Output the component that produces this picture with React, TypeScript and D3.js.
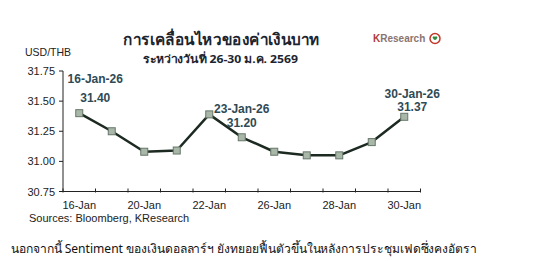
import React from "react";
import * as d3 from "d3";

const categories = ["16-Jan", "19-Jan", "20-Jan", "21-Jan", "22-Jan", "23-Jan", "26-Jan", "27-Jan", "28-Jan", "29-Jan", "30-Jan"];
const values = [31.40, 31.25, 31.08, 31.09, 31.39, 31.20, 31.08, 31.05, 31.05, 31.16, 31.37];
const xTickLabels = ["16-Jan", "20-Jan", "22-Jan", "26-Jan", "28-Jan", "30-Jan"];
const yTicks = [30.75, 31.0, 31.25, 31.5, 31.75];
const annotations = [
  { cat: "16-Jan", date: "16-Jan-26", value: "31.40", dx: 16, dy1: -30, dy2: -11 },
  { cat: "23-Jan", date: "23-Jan-26", value: "31.20", dx: 0, dy1: -24, dy2: -10 },
  { cat: "30-Jan", date: "30-Jan-26", value: "31.37", dx: 8, dy1: -19, dy2: -6 },
];
const title = "การเคลื่อนไหวของค่าเงินบาท";
const subtitle = "ระหว่างวันที่ 26-30 ม.ค. 2569";
const source = "Sources: Bloomberg, KResearch";
const bodyText = "นอกจากนี้ Sentiment ของเงินดอลลาร์ฯ ยังทยอยฟื้นตัวขึ้นในหลังการประชุมเฟดซึ่งคงอัตรา";

export default function App() {
  const W = 533, H = 261;
  const x = d3.scaleBand<string>().domain(categories).range([63, 420.5]).padding(0);
  const y = d3.scaleLinear().domain([30.75, 31.75]).range([191.5, 71]);
  const cx = (c: string) => (x(c) as number) + x.bandwidth() / 2;
  const line = d3.line<number>().x((_, i) => cx(categories[i])).y((v) => y(v));
  const font = "Liberation Sans, Arial, sans-serif";
  const thai = "Tahoma, Noto Sans, sans-serif";
  const edges = categories.map((c) => x(c) as number).concat([x.range()[1]]);

  return (
    <svg width={W} height={H} style={{ position: "absolute", left: 0, top: 0, background: "#fff" }}>
      <rect width={W} height={H} fill="#fff" />
      <text x={123} y={45} textLength={197} lengthAdjust="spacingAndGlyphs" fontFamily={thai} fontWeight="bold" fontSize={16} fill="#1c2430">{title}</text>
      <text x={143} y={63} textLength={155} lengthAdjust="spacingAndGlyphs" fontFamily={thai} fontWeight="bold" fontSize={11} fill="#1c2430">{subtitle}</text>
      <text x={373} y={42} fontFamily={font} fontWeight="bold" fontSize={10} fill="#8a7470">
        <tspan fill="#b03a3a">K</tspan>Research
      </text>
      <circle cx={435} cy={38.5} r={5} fill="#fff" stroke="#c0392b" strokeWidth={1.5} />
      <path d="M432.5,37.5 Q435,42.5 437.5,37.5 Q436,35.5 435,37 Q434,35.5 432.5,37.5 Z" fill="#2e8b3a" />

      <text x={25} y={56} fontFamily={font} fontSize={10.5} fill="#222">USD/THB</text>

      {/* y axis */}
      <line x1={63} x2={63} y1={y(31.75)} y2={y(30.75)} stroke="#222" strokeWidth={1} />
      {yTicks.map((t) => (
        <g key={t}>
          <line x1={59} x2={63} y1={y(t)} y2={y(t)} stroke="#222" />
          <text x={55} y={y(t) + 4} textAnchor="end" fontFamily={font} fontSize={11} fill="#222">{t.toFixed(2)}</text>
        </g>
      ))}
      {/* x axis */}
      <line x1={63} x2={x.range()[1]} y1={y(30.75)} y2={y(30.75)} stroke="#222" />
      {edges.map((e, i) => (
        <line key={i} x1={e} x2={e} y1={y(30.75) - 3} y2={y(30.75) + 1} stroke="#222" />
      ))}
      {xTickLabels.map((l) => (
        <text key={l} x={cx(l)} y={209} textAnchor="middle" fontFamily={font} fontSize={11} fill="#222">{l}</text>
      ))}
      <text x={29} y={222} fontFamily={font} fontSize={11} fill="#222">{source}</text>

      <path d={line(values) || ""} fill="none" stroke="#1c2a22" strokeWidth={2.5} strokeLinejoin="round" />
      {values.map((v, i) => (
        <rect key={i} x={cx(categories[i]) - 3.5} y={y(v) - 3.5} width={7} height={7} fill="#a9b7a8" stroke="#66776a" strokeWidth={1} />
      ))}

      {annotations.map((a) => {
        const i = categories.indexOf(a.cat);
        const px = cx(a.cat) + a.dx;
        const py = y(values[i]);
        return (
          <g key={a.cat} fontFamily={font} fontWeight="bold" fontSize={12} fill="#2f4a56" textAnchor="middle">
            <text x={px} y={py + a.dy1}>{a.date}</text>
            <text x={px} y={py + a.dy2}>{a.value}</text>
          </g>
        );
      })}

      <text x={11} y={253} textLength={466} lengthAdjust="spacingAndGlyphs" fontFamily={thai} fontSize={12.2} fill="#111">{bodyText}</text>
    </svg>
  );
}
